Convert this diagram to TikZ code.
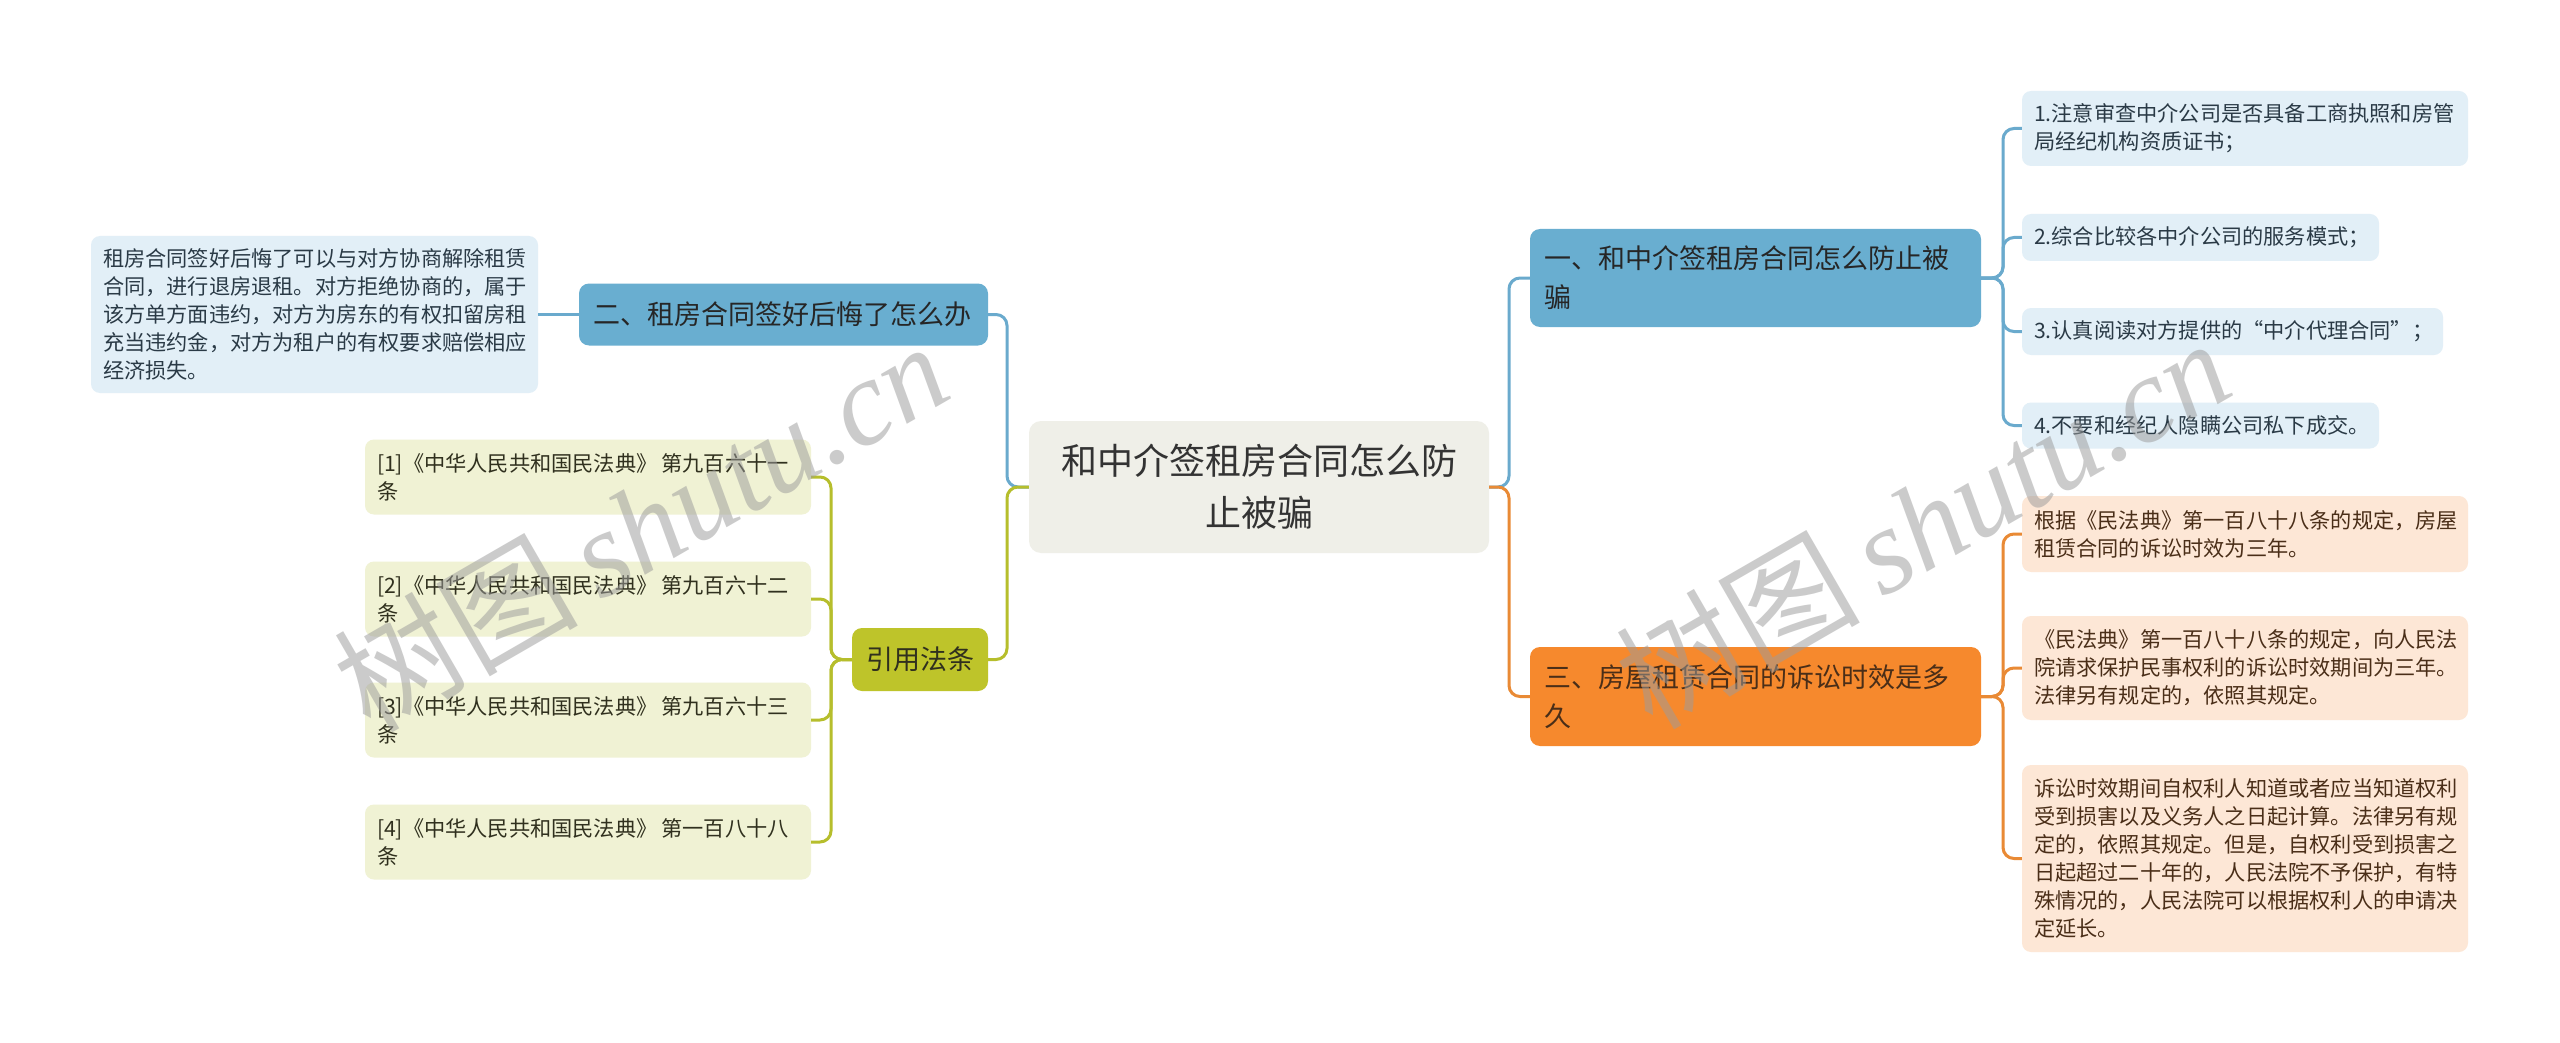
\documentclass[tikz,border=0pt]{standalone}
\usepackage{fontspec}
\setmainfont{Noto Sans CJK SC}
\newfontfamily\wmlatin{Liberation Serif}
\definecolor{cenfill}{HTML}{EFEFE8}
\definecolor{bnode}{HTML}{69AED0}
\definecolor{bline}{HTML}{6AAACD}
\definecolor{bleaf}{HTML}{E2EFF7}
\definecolor{lnode}{HTML}{BEC42A}
\definecolor{lline}{HTML}{B6BE2C}
\definecolor{lleaf}{HTML}{F0F2D4}
\definecolor{onode}{HTML}{F6892D}
\definecolor{oline}{HTML}{E98A35}
\definecolor{oleaf}{HTML}{FDE7D6}
\definecolor{txt}{HTML}{333333}
\definecolor{btxt}{HTML}{2A3A46}
\definecolor{otxt}{HTML}{4A2E18}
\definecolor{ltxt}{HTML}{30301E}
\definecolor{wmgray}{HTML}{9C9C9C}
\begin{document}
\begin{tikzpicture}[x=1pt,y=-1pt,
  cen/.style={fill=cenfill, rounded corners=12pt, minimum width=460pt, minimum height=132pt,
    font=\fontsize{36}{52}\selectfont, align=center, text=txt, inner sep=0pt},
  lvl/.style={rounded corners=10pt, font=\fontsize{27}{39}\selectfont, align=left,
    inner xsep=14pt, inner ysep=0pt},
  leaf/.style={rounded corners=9pt, font=\fontsize{21.2}{28}\selectfont, align=left,
    inner xsep=12pt, inner ysep=0pt},
  bleafn/.style={leaf, fill=bleaf, text=btxt},
  lleafn/.style={leaf, fill=lleaf, text=ltxt},
  oleafn/.style={leaf, fill=oleaf, text=otxt},
  edge/.style={line width=3pt, rounded corners=11pt},
  bedge/.style={edge, draw=bline},
  ledge/.style={edge, draw=lline},
  oedge/.style={edge, draw=oline},
  wm/.style={rotate=30, text=wmgray, opacity=0.52, inner sep=0pt,
    font=\fontsize{122}{122}\selectfont}
]
\useasboundingbox (0,0) rectangle (2560,1043);
\fill[white] (0,0) rectangle (2560,1043);

% junctions
\coordinate (jL) at (1007,487);
\coordinate (jR) at (1509,487);
\coordinate (jYi) at (2003,278);
\coordinate (jSan) at (2003,696.5);
\coordinate (jLaw) at (831,659.5);

% central
\node[cen] (C) at (1259,487) {和中介签租房合同怎么防\\止被骗};

% level 1
\node[lvl, fill=bnode, text=black!85, text width=381pt, minimum height=62pt] (er) at (783.5,314.5) {二、租房合同签好后悔了怎么办};
\node[lvl, fill=lnode, text=ltxt, text width=108pt, minimum height=63pt, align=center] (yin) at (920,659.5) {引用法条};
\node[lvl, fill=bnode, text=black!85, text width=423pt, minimum height=98pt] (yi) at (1755.5,278) {一、和中介签租房合同怎么防止被\\骗};
\node[lvl, fill=onode, text=otxt, text width=423pt, minimum height=99pt] (san) at (1755.5,696.5) {三、房屋租赁合同的诉讼时效是多\\久};

% left leaves
\node[bleafn, text width=423pt, minimum height=157pt] (erL) at (314.5,314.5) {租房合同签好后悔了可以与对方协商解除租赁\\合同，进行退房退租。对方拒绝协商的，属于\\该方单方面违约，对方为房东的有权扣留房租\\充当违约金，对方为租户的有权要求赔偿相应\\经济损失。};

\node[lleafn, text width=422pt, minimum height=75pt] (law1) at (588,477) {[1]《中华人民共和国民法典》\kern4pt第九百六十一\\条};
\node[lleafn, text width=422pt, minimum height=75pt] (law2) at (588,599) {[2]《中华人民共和国民法典》\kern4pt第九百六十二\\条};
\node[lleafn, text width=422pt, minimum height=75pt] (law3) at (588,720) {[3]《中华人民共和国民法典》\kern4pt第九百六十三\\条};
\node[lleafn, text width=422pt, minimum height=75pt] (law4) at (588,842) {[4]《中华人民共和国民法典》\kern4pt第一百八十八\\条};

% right leaves (blue)
\node[bleafn, text width=422pt, minimum height=75pt] (yi1) at (2245,128.5) {1.注意审查中介公司是否具备工商执照和房管\\局经纪机构资质证书；};
\node[bleafn, text width=333pt, minimum height=47pt] (yi2) at (2200.5,237.5) {2.综合比较各中介公司的服务模式；};
\node[bleafn, text width=397pt, minimum height=47pt] (yi3) at (2232.5,331.5) {3.认真阅读对方提供的“中介代理合同”；};
\node[bleafn, text width=333pt, minimum height=46pt] (yi4) at (2200.5,425.5) {4.不要和经纪人隐瞒公司私下成交。};

% right leaves (orange)
\node[oleafn, text width=422pt, minimum height=76pt] (s1) at (2245,534) {根据《民法典》第一百八十八条的规定，房屋\\租赁合同的诉讼时效为三年。};
\node[oleafn, text width=422pt, minimum height=104pt] (s2) at (2245,668) {《民法典》第一百八十八条的规定，向人民法\\院请求保护民事权利的诉讼时效期间为三年。\\法律另有规定的，依照其规定。};
\node[oleafn, text width=422pt, minimum height=187pt] (s3) at (2245,858.5) {诉讼时效期间自权利人知道或者应当知道权利\\受到损害以及义务人之日起计算。法律另有规\\定的，依照其规定。但是，自权利受到损害之\\日起超过二十年的，人民法院不予保护，有特\\殊情况的，人民法院可以根据权利人的申请决\\定延长。};

% connectors
\draw[bedge] (C.west) -- (jL) |- (er.east);
\draw[ledge] (C.west) -- (jL) |- (yin.east);
\draw[bedge] (C.east) -- (jR) |- (yi.west);
\draw[oedge] (C.east) -- (jR) |- (san.west);
\draw[bedge] (er.west) -- (erL.east);
\foreach \n in {law1,law2,law3,law4}
  \draw[ledge] (yin.west) -- (jLaw) |- (\n.east);
\foreach \n in {yi1,yi2,yi3,yi4}
  \draw[bedge] (yi.east) -- (jYi) |- (\n.west);
\foreach \n in {s1,s2,s3}
  \draw[oedge] (san.east) -- (jSan) |- (\n.west);

% watermarks
\node[wm] (wm1) at (640,525) {树图\kern22pt{\wmlatin\itshape shutu.cn}};
\node[wm] (wm2) at (1922,522) {树图\kern22pt{\wmlatin\itshape shutu.cn}};
\end{tikzpicture}
\end{document}
